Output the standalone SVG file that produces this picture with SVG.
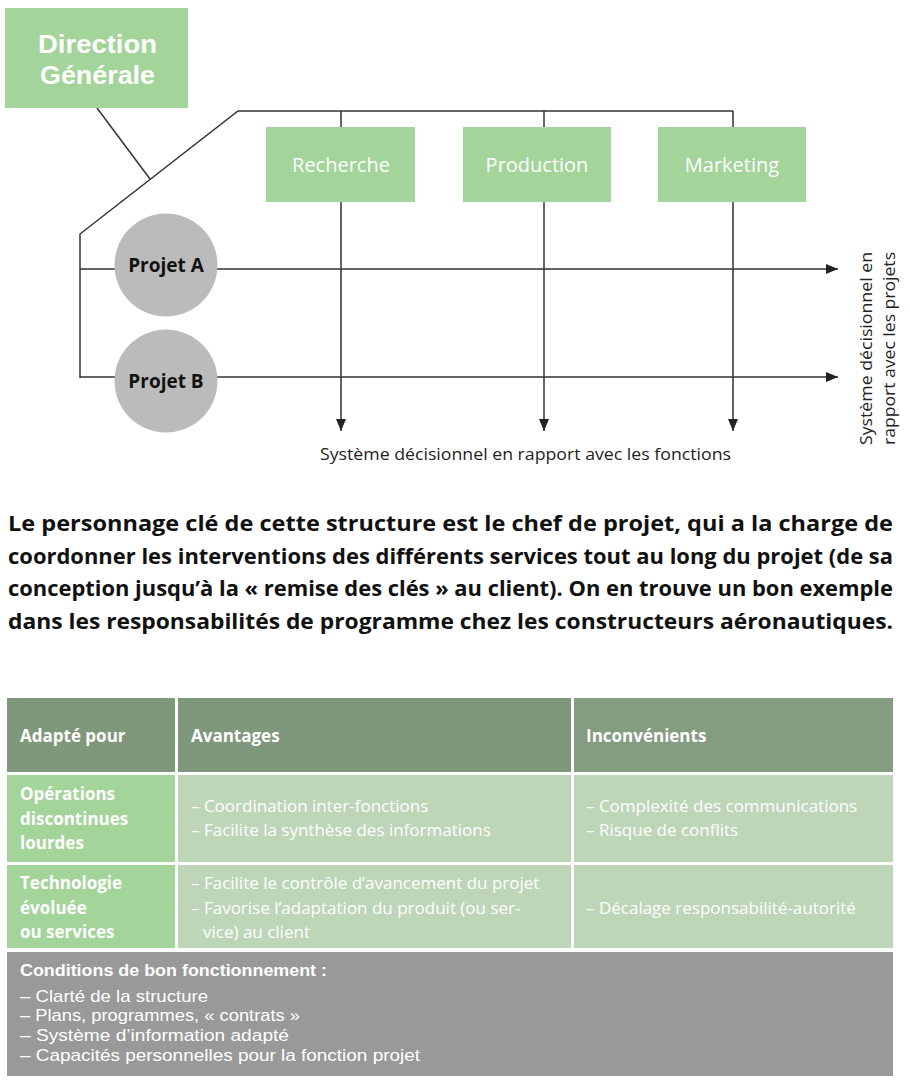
<svg xmlns="http://www.w3.org/2000/svg" width="910" height="1084" viewBox="0 0 910 1084">
<style>
text{font-family:"Open Sans","Liberation Sans",Arial,sans-serif}
.ln{stroke:#333;stroke-width:1.5;fill:none}
.g{fill:#a3d49a}
.b{font-weight:bold}
.dg{font-family:"Liberation Sans",Arial,sans-serif;font-weight:bold;font-size:26px;fill:#fff}
.lbl{font-size:20px;fill:#fff;text-anchor:middle}
.prj{font-size:19px;font-weight:bold;fill:#111;text-anchor:middle}
.par{font-size:21px;font-weight:bold;fill:#111}
.td{font-size:17px;fill:#fff}
.bt{font-family:"Liberation Sans",Arial,sans-serif;font-size:17px;fill:#fff}
.sm{font-size:16px;fill:#222}
</style>
<defs>
<marker id="ah" viewBox="0 0 12 10" refX="12" refY="5" markerWidth="12" markerHeight="10" markerUnits="userSpaceOnUse" orient="auto">
<path d="M0,0 L12,5 L0,10 Z" fill="#222"/>
</marker>
</defs>
<rect width="910" height="1084" fill="#fff"/>
<g id="connectors">
<line class="ln" x1="97" y1="108" x2="150" y2="179"/>
<polyline class="ln" points="80,378 80,234 238,111 733,111"/>
<line class="ln" x1="341" y1="111" x2="341" y2="431" marker-end="url(#ah)"/>
<line class="ln" x1="544" y1="111" x2="544" y2="431" marker-end="url(#ah)"/>
<line class="ln" x1="733" y1="111" x2="733" y2="431" marker-end="url(#ah)"/>
<line class="ln" x1="80" y1="269" x2="838" y2="269" marker-end="url(#ah)"/>
<line class="ln" x1="80" y1="377" x2="838" y2="377" marker-end="url(#ah)"/>
</g>
<g id="direction">
<rect class="g" x="5" y="8" width="183" height="100"/>
<text x="38" y="53" class="dg" textLength="119" lengthAdjust="spacingAndGlyphs">Direction</text>
<text x="40" y="84" class="dg" textLength="115" lengthAdjust="spacingAndGlyphs">Générale</text>
</g>
<g id="recherche">
<rect class="g" x="266" y="127" width="149" height="75"/>
<text x="341" y="172" class="lbl">Recherche</text>
</g>
<g id="production">
<rect class="g" x="463" y="127" width="148" height="75"/>
<text x="537" y="172" class="lbl">Production</text>
</g>
<g id="marketing">
<rect class="g" x="658" y="127" width="148" height="75"/>
<text x="732" y="172" class="lbl">Marketing</text>
</g>
<g id="projetA">
<circle cx="166" cy="265" r="51.5" fill="#bbb"/>
<text x="166" y="272" class="prj">Projet A</text>
</g>
<g id="projetB">
<circle cx="166" cy="381" r="51.5" fill="#bbb"/>
<text x="166" y="388" class="prj">Projet B</text>
</g>
<g id="labels">
<text x="320" y="460" class="sm" textLength="411" lengthAdjust="spacingAndGlyphs">Système décisionnel en rapport avec les fonctions</text>
<text transform="translate(872,445) rotate(-90)" class="sm" textLength="193" lengthAdjust="spacingAndGlyphs">Système décisionnel en</text>
<text transform="translate(895,445) rotate(-90)" class="sm" textLength="193" lengthAdjust="spacingAndGlyphs">rapport avec les projets</text>
</g>
<g id="paragraph">
<text x="8" y="531" class="par" textLength="885" lengthAdjust="spacingAndGlyphs">Le personnage clé de cette structure est le chef de projet, qui a la charge de</text>
<text x="8" y="564" class="par" textLength="885" lengthAdjust="spacingAndGlyphs">coordonner les interventions des différents services tout au long du projet (de sa</text>
<text x="8" y="596" class="par" textLength="885" lengthAdjust="spacingAndGlyphs">conception jusqu’à la « remise des clés » au client). On en trouve un bon exemple</text>
<text x="8" y="629" class="par" textLength="885" lengthAdjust="spacingAndGlyphs">dans les responsabilités de programme chez les constructeurs aéronautiques.</text>
</g>
<g id="table">
<rect x="7" y="698" width="168" height="74" fill="#7f977b"/>
<rect x="178" y="698" width="393" height="74" fill="#7f977b"/>
<rect x="574" y="698" width="319" height="74" fill="#849c80"/>
<rect class="g" x="7" y="775" width="168" height="87"/>
<rect x="178" y="775" width="393" height="87" fill="#bdd6b7"/>
<rect x="574" y="775" width="319" height="87" fill="#bdd6b7"/>
<rect class="g" x="7" y="865" width="168" height="83"/>
<rect x="178" y="865" width="393" height="83" fill="#bdd6b7"/>
<rect x="574" y="865" width="319" height="83" fill="#bdd6b7"/>
<rect x="7" y="952" width="886" height="124" fill="#999"/>
<text x="20" y="742" class="td b">Adapté pour</text>
<text x="191" y="742" class="td b">Avantages</text>
<text x="586" y="742" class="td b">Inconvénients</text>
<text x="20" y="800" class="td b">Opérations</text>
<text x="20" y="825" class="td b">discontinues</text>
<text x="20" y="849" class="td b">lourdes</text>
<text x="191" y="812" class="td">– Coordination inter-fonctions</text>
<text x="191" y="836" class="td">– Facilite la synthèse des informations</text>
<text x="586" y="812" class="td">– Complexité des communications</text>
<text x="586" y="836" class="td">– Risque de conflits</text>
<text x="20" y="889" class="td b">Technologie</text>
<text x="20" y="914" class="td b">évoluée</text>
<text x="20" y="938" class="td b">ou services</text>
<text x="191" y="889" class="td">– Facilite le contrôle d’avancement du projet</text>
<text x="191" y="914" class="td">–  Favorise l’adaptation du produit (ou ser-</text>
<text x="203" y="938" class="td">vice) au client</text>
<text x="586" y="914" class="td">– Décalage responsabilité-autorité</text>
<text x="20" y="976" class="bt b" font-size="16" textLength="307" lengthAdjust="spacingAndGlyphs">Conditions de bon fonctionnement :</text>
<text x="20" y="1002" class="bt" textLength="188" lengthAdjust="spacingAndGlyphs">– Clarté de la structure</text>
<text x="20" y="1021" class="bt" textLength="280" lengthAdjust="spacingAndGlyphs">– Plans, programmes, « contrats »</text>
<text x="20" y="1041" class="bt" textLength="269" lengthAdjust="spacingAndGlyphs">– Système d’information adapté</text>
<text x="20" y="1061" class="bt" textLength="400" lengthAdjust="spacingAndGlyphs">– Capacités personnelles pour la fonction projet</text>
</g>
</svg>
